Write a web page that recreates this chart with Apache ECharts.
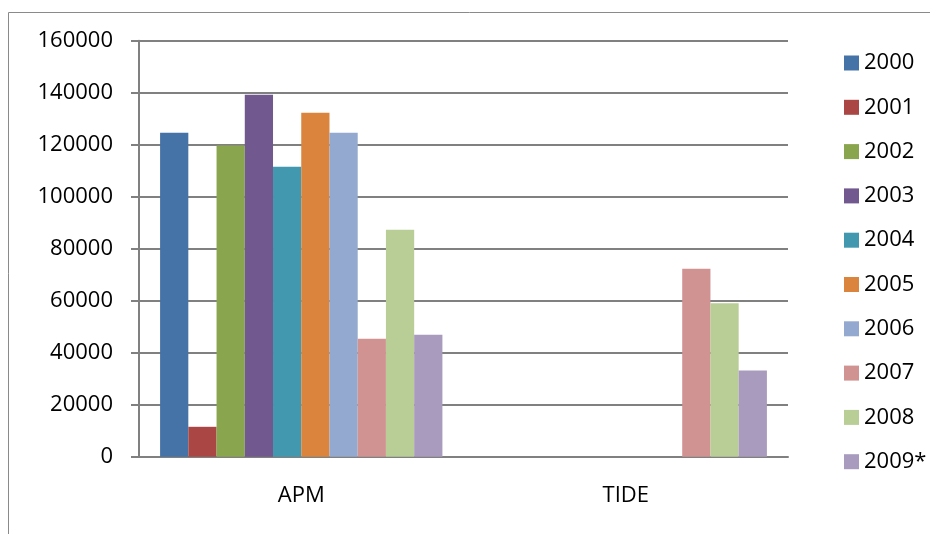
<!DOCTYPE html>
<html><head><meta charset="utf-8">
<script src="https://cdn.jsdelivr.net/npm/echarts@6/dist/echarts.min.js"></script>
<style>html,body{margin:0;padding:0;background:#fff}#c{width:930px;height:534px}</style>
</head><body><div id="c"></div>
<script>
const categories = ['APM', 'TIDE'];
const seriesNames = ['2000','2001','2002','2003','2004','2005','2006','2007','2008','2009*'];
const apmValues  = [124600, 11500, 119700, 139200, 111500, 132300, 124600, 45400, 87300, 46900];
const tideValues = [null, null, null, null, null, null, null, 72300, 59000, 33200];
const colors = ['#4572A7','#AA4643','#89A54E','#71588F','#4198AF','#DB843D','#93A9CF','#D19392','#B9CD96','#A99BBD'];
const yTicks = [0,20000,40000,60000,80000,100000,120000,140000,160000];

const FONT = '"Open Sans", "Liberation Sans", sans-serif';
const chart = echarts.init(document.getElementById('c'), null, {renderer:'canvas'});
chart.setOption({
  animation: false,
  color: colors,
  graphic: [{type:'rect', shape:{x:8.5, y:12.5, width:1000, height:600}, style:{fill:'none', stroke:'#8a8a8a', lineWidth:1}, silent:true}],
  grid: {left:139, right:142, top:40.7, bottom:77.3, containLabel:false},
  legend: {
    orient:'vertical', left:844, top:52, padding:0, itemWidth:15, itemHeight:15, itemGap:22.3,
    icon:'rect',
    textStyle:{fontFamily:FONT, fontSize:22, color:'#000'},
    data: seriesNames
  },
  xAxis: {
    type:'category', data: categories,
    axisLine:{lineStyle:{color:'#808080', width:2}},
    axisTick:{show:false},
    axisLabel:{fontFamily:FONT, fontSize:22, color:'#000', margin:28}
  },
  yAxis: {
    type:'value', min:yTicks[0], max:yTicks[yTicks.length-1], interval:20000,
    axisLine:{show:true, lineStyle:{color:'#808080', width:2}},
    axisTick:{show:true, length:8, lineStyle:{color:'#808080', width:2}},
    splitLine:{lineStyle:{color:'#808080', width:2}},
    axisLabel:{fontFamily:FONT, fontSize:22, color:'#000', margin:26, formatter:v=>String(v)}
  },
  series: seriesNames.map((n,i)=>({
    name:n, type:'bar', data:[apmValues[i], tideValues[i]],
    barGap:'0%', barCategoryGap:'13%',
    itemStyle:{color:colors[i]}
  }))
});
</script></body></html>
